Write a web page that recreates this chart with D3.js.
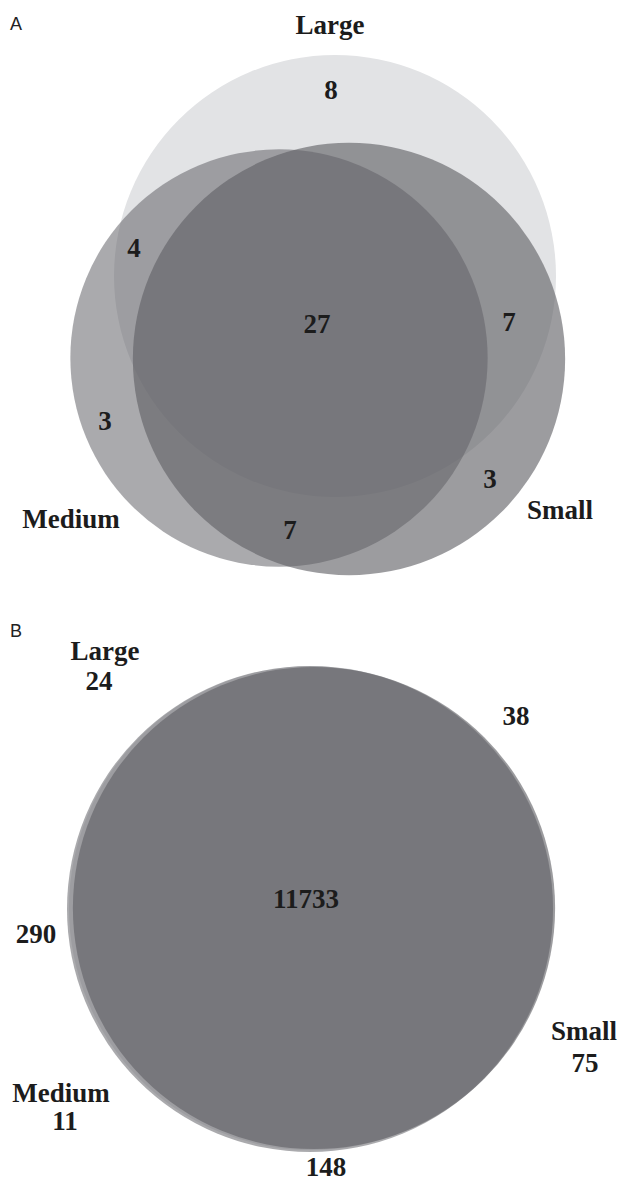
<!DOCTYPE html>
<html>
<head>
<meta charset="utf-8">
<script src="https://cdn.jsdelivr.net/npm/d3@7"></script>
<style>
  html, body { margin: 0; padding: 0; background: #ffffff; }
  svg { display: block; }
</style>
</head>
<body>
<script>
// Set names, drawn in this order (Large underneath, Small on top)
const sets = ["Large", "Medium", "Small"];

// Panel A region counts
const aLargeOnly = 8, aMediumOnly = 3, aSmallOnly = 3;
const aLargeMedium = 4, aLargeSmall = 7, aMediumSmall = 7;
const aAll = 27;

// Panel B region counts
const bLargeOnly = 24, bMediumOnly = 11, bSmallOnly = 75;
const bLargeMedium = 290, bLargeSmall = 38, bMediumSmall = 148;
const bAll = 11733;

const width = 620, height = 1181;
const svg = d3.select("body").append("svg")
  .attr("width", width).attr("height", height);

// Fill style per set: Large opaque, the other two translucent
const setStyle = {
  Large:  { fill: "rgb(226,227,229)", opacity: 1 },
  Medium: { fill: "rgb(100,101,105)", opacity: 0.55 },
  Small:  { fill: "rgb(96,97,101)",   opacity: 0.624 }
};

function totals(lo, mo, so, lm, ls, ms, all) {
  return {
    Large:  lo + lm + ls + all,
    Medium: mo + lm + ms + all,
    Small:  so + ls + ms + all
  };
}

function drawPanel(g, tot, centers, rMax, letter, labels) {
  // circle area proportional to set size
  const maxTot = d3.max(sets, s => tot[s]);
  const r = d3.scaleSqrt().domain([0, maxTot]).range([0, rMax]);

  g.selectAll("circle.set")
    .data(sets)
    .join("circle")
    .attr("class", "set")
    .attr("cx", s => centers[s][0])
    .attr("cy", s => centers[s][1])
    .attr("r", s => r(tot[s]))
    .attr("fill", s => setStyle[s].fill)
    .attr("fill-opacity", s => setStyle[s].opacity);

  g.append("text")
    .attr("x", letter[0]).attr("y", letter[1])
    .attr("font-family", "'Liberation Sans', Arial, sans-serif")
    .attr("font-size", 18)
    .attr("fill", "#222")
    .text(letter[2]);

  g.selectAll("text.lbl")
    .data(labels)
    .join("text")
    .attr("class", "lbl")
    .attr("x", d => d.x)
    .attr("y", d => d.y)
    .attr("text-anchor", "middle")
    .attr("font-family", "'Liberation Serif', 'Times New Roman', serif")
    .attr("font-weight", "bold")
    .attr("font-size", 27)
    .attr("fill", "#1c1c1c")
    .text(d => d.t);
}

// Panel A
const gA = svg.append("g");
drawPanel(
  gA,
  totals(aLargeOnly, aMediumOnly, aSmallOnly, aLargeMedium, aLargeSmall, aMediumSmall, aAll),
  { Large: [335, 276], Medium: [279, 358], Small: [349, 359] },
  221,
  [10, 30, "A"],
  [
    { t: sets[0], x: 330, y: 34 },
    { t: sets[1], x: 71, y: 528 },
    { t: sets[2], x: 560, y: 519 },
    { t: String(aLargeOnly), x: 331, y: 99 },
    { t: String(aLargeMedium), x: 134, y: 257 },
    { t: String(aLargeSmall), x: 509, y: 331 },
    { t: String(aAll), x: 317, y: 333 },
    { t: String(aMediumOnly), x: 105, y: 430 },
    { t: String(aSmallOnly), x: 490, y: 488 },
    { t: String(aMediumSmall), x: 290, y: 539 }
  ]
);

// Panel B
const gB = svg.append("g");
drawPanel(
  gB,
  totals(bLargeOnly, bMediumOnly, bSmallOnly, bLargeMedium, bLargeSmall, bMediumSmall, bAll),
  { Large: [311, 908], Medium: [310, 909], Small: [314, 908] },
  243,
  [10, 637, "B"],
  [
    { t: sets[0], x: 105, y: 660 },
    { t: String(bLargeOnly), x: 99, y: 690 },
    { t: String(bLargeSmall), x: 516, y: 725 },
    { t: String(bAll), x: 306, y: 908 },
    { t: String(bLargeMedium), x: 36, y: 943 },
    { t: sets[2], x: 584, y: 1040 },
    { t: String(bSmallOnly), x: 585, y: 1072 },
    { t: sets[1], x: 61, y: 1102 },
    { t: String(bMediumOnly), x: 65, y: 1130 },
    { t: String(bMediumSmall), x: 326, y: 1176 }
  ]
);
</script>
</body>
</html>
